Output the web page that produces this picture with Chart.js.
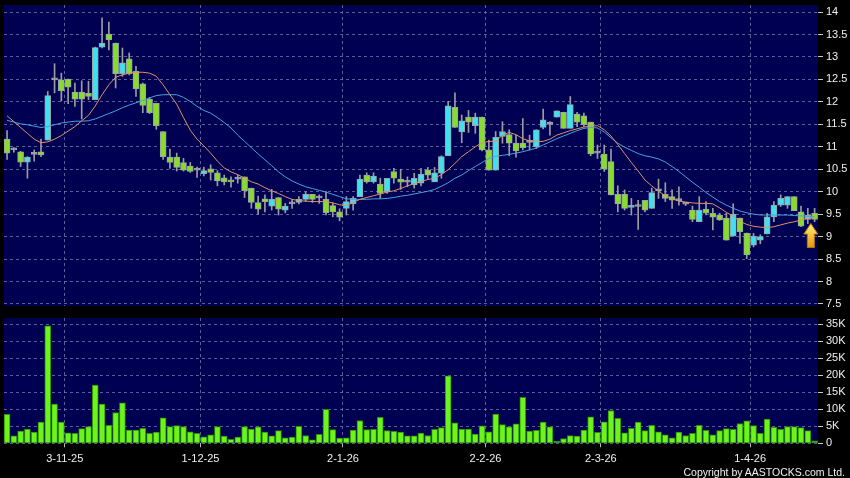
<!DOCTYPE html>
<html>
<head>
<meta charset="utf-8">
<script src="https://cdn.jsdelivr.net/npm/chart.js@4.4.1/dist/chart.umd.min.js"></script>
<style>
  body { margin: 0; background: #000; width: 850px; height: 478px; overflow: hidden; position: relative; }
  #priceWrap { position: absolute; left: 0; top: 0; width: 850px; height: 312px; }
  #volWrap { position: absolute; left: 0; top: 312px; width: 850px; height: 166px; }
  #copy { position: absolute; right: 5px; top: 466px; color: #f0f0f0; font: 10.5px "Liberation Sans", Arial, sans-serif; line-height: 12px; white-space: nowrap; }
</style>
</head>
<body>
<div id="priceWrap"><canvas id="priceChart"></canvas></div>
<div id="volWrap"><canvas id="volChart"></canvas></div>
<div id="copy">Copyright by AASTOCKS.com Ltd.</div>
<script>
// daily OHLC, oldest first
var opens = [11.17,10.93,10.89,10.66,10.83,10.89,11.15,12.49,12.49,12.51,
  12.22,12.22,12.19,12.05,13.22,13.51,13.31,12.63,12.96,12.68,
  12.40,12.06,11.97,11.34,10.77,10.77,10.65,10.57,10.48,10.40,
  10.51,10.42,10.31,10.26,10.28,10.33,10.08,9.76,9.84,9.68,
  9.87,9.59,9.73,9.76,9.83,9.94,9.86,9.83,9.69,9.55,
  9.63,9.73,9.89,10.37,10.22,10.17,10.00,10.45,10.28,10.21,
  10.15,10.19,10.48,10.22,10.41,10.80,11.88,11.33,11.66,11.47,
  11.66,10.93,10.48,11.23,11.27,11.08,11.08,11.10,11.00,11.43,
  11.50,11.66,11.77,11.41,11.73,11.69,11.55,10.86,10.84,10.67,
  9.94,9.94,9.65,9.67,9.81,9.63,10.02,9.94,9.89,9.80,
  9.72,9.59,9.33,9.61,9.52,9.48,9.41,9.01,9.41,9.08,
  8.81,8.92,9.06,9.44,9.70,9.70,9.89,9.55,9.38,9.52];
var closes = [10.86,10.93,10.66,10.77,10.83,10.82,12.14,12.49,12.25,12.33,
  12.06,12.06,12.12,13.21,13.31,13.38,12.63,12.87,12.63,12.29,
  11.92,11.76,11.47,10.78,10.65,10.54,10.48,10.45,10.48,10.47,
  10.43,10.24,10.22,10.22,10.28,10.02,9.76,9.61,9.78,9.83,
  9.61,9.68,9.73,9.83,9.94,9.83,9.86,9.53,9.55,9.43,
  9.78,9.85,10.28,10.22,10.35,9.96,10.30,10.30,10.21,10.21,
  10.30,10.39,10.37,10.42,10.78,11.91,11.43,11.58,11.55,11.66,
  10.93,10.48,11.21,11.34,11.08,10.91,10.98,11.10,11.38,11.60,
  11.50,11.80,11.41,11.94,11.55,11.49,10.84,10.86,10.50,9.93,
  9.73,9.63,9.69,9.67,9.59,9.98,10.02,9.85,9.81,9.80,
  9.72,9.38,9.59,9.52,9.43,9.37,8.92,9.50,9.11,8.59,
  9.01,9.00,9.44,9.70,9.85,9.89,9.58,9.23,9.48,9.38];
var highs = [11.36,10.98,10.90,10.78,10.93,11.17,12.23,12.85,12.64,12.51,
  12.42,12.47,12.46,13.22,13.87,13.78,13.31,13.20,13.09,12.79,
  12.42,12.10,11.97,11.34,10.95,10.86,10.74,10.65,10.55,10.55,
  10.60,10.47,10.37,10.33,10.37,10.33,10.08,9.90,9.93,10.05,
  9.87,9.74,9.83,9.89,10.00,9.94,9.93,10.00,9.75,9.62,
  9.89,9.89,10.37,10.42,10.42,10.30,10.30,10.52,10.50,10.33,
  10.41,10.52,10.54,10.54,10.80,12.01,12.20,11.71,11.81,11.75,
  11.66,11.15,11.34,11.56,11.38,11.26,11.63,11.26,11.38,11.84,
  11.56,11.80,11.77,12.12,11.77,11.75,11.55,11.04,11.04,10.95,
  10.13,10.04,9.85,9.81,9.81,10.08,10.28,10.20,10.04,10.11,
  9.76,9.68,9.89,9.78,9.63,9.52,9.52,9.73,9.41,9.08,
  9.07,9.04,9.52,9.78,9.93,9.89,9.89,9.68,9.63,9.63];
var lows = [10.72,10.88,10.56,10.30,10.68,10.78,11.15,12.20,12.02,11.96,
  11.90,11.62,12.05,12.05,13.20,13.16,12.31,12.57,12.60,12.12,
  11.76,11.74,11.39,10.72,10.52,10.46,10.46,10.43,10.32,10.35,
  10.26,10.13,10.15,10.10,10.19,9.87,9.63,9.50,9.55,9.59,
  9.48,9.53,9.63,9.73,9.78,9.76,9.74,9.48,9.44,9.35,
  9.48,9.59,9.89,10.19,10.19,9.85,9.96,10.19,10.05,10.11,
  10.08,10.13,10.28,10.22,10.30,10.80,11.43,11.09,11.32,11.30,
  10.91,10.48,10.48,11.08,10.80,10.77,10.93,10.93,10.96,11.40,
  11.26,11.66,11.41,11.41,11.45,11.45,10.80,10.74,10.45,9.93,
  9.55,9.59,9.48,9.16,9.55,9.63,9.85,9.78,9.63,9.70,
  9.69,9.33,9.33,9.48,9.15,9.36,8.92,9.01,8.85,8.51,
  8.77,8.84,9.06,9.33,9.67,9.63,9.58,9.22,9.29,9.33];

// moving averages as drawn (short = orange, long = blue)
var maShort = [11.69,11.56,11.43,11.30,11.17,11.09,11.11,11.17,11.25,11.35,
  11.45,11.58,11.70,11.91,12.16,12.38,12.55,12.60,12.64,12.66,
  12.66,12.64,12.57,12.38,12.16,11.95,11.65,11.37,11.17,11.02,
  10.86,10.68,10.53,10.44,10.38,10.30,10.22,10.17,10.09,10.02,
  9.96,9.89,9.83,9.80,9.79,9.78,9.78,9.78,9.75,9.71,
  9.69,9.76,9.83,9.87,9.91,9.95,9.99,10.02,10.07,10.13,
  10.18,10.23,10.27,10.30,10.38,10.49,10.63,10.78,10.89,11.00,
  11.09,11.12,11.12,11.26,11.32,11.27,11.18,11.13,11.12,11.12,
  11.17,11.26,11.31,11.36,11.40,11.44,11.46,11.47,11.38,11.24,
  11.05,10.85,10.65,10.46,10.26,10.13,10.01,9.91,9.85,9.79,
  9.77,9.75,9.74,9.74,9.73,9.64,9.54,9.45,9.34,9.27,
  9.23,9.21,9.20,9.22,9.26,9.30,9.33,9.37,9.41,9.43];
var maLong = [11.59,11.55,11.51,11.49,11.46,11.43,11.45,11.49,11.53,11.55,
  11.57,11.57,11.58,11.62,11.68,11.74,11.80,11.87,11.93,11.98,
  12.03,12.09,12.14,12.16,12.16,12.16,12.10,12.01,11.90,11.81,
  11.75,11.65,11.54,11.42,11.26,11.12,10.98,10.84,10.71,10.58,
  10.44,10.33,10.24,10.17,10.11,10.07,10.03,9.99,9.94,9.89,
  9.84,9.83,9.83,9.83,9.84,9.84,9.85,9.87,9.90,9.92,
  9.95,9.98,10.01,10.05,10.12,10.20,10.30,10.37,10.47,10.56,
  10.65,10.74,10.79,10.81,10.83,10.86,10.89,10.93,10.97,11.04,
  11.11,11.18,11.24,11.30,11.36,11.41,11.43,11.42,11.33,11.20,
  11.08,10.99,10.92,10.85,10.80,10.77,10.73,10.66,10.56,10.45,
  10.33,10.21,10.10,9.98,9.88,9.78,9.70,9.63,9.57,9.53,
  9.50,9.48,9.48,9.48,9.48,9.48,9.47,9.46,9.45,9.44];

var volumes = [8500,2200,3600,4200,3300,6200,34500,11500,6200,3100,
  2900,4300,4900,17100,11500,5300,9000,11900,3900,3900,
  4400,2900,3300,7500,4900,5200,4900,3400,2900,1900,
  2500,4900,2100,1200,1800,4900,4200,4800,3300,2200,
  3700,1600,1800,5000,2300,1000,2600,10000,4000,1500,
  1600,3900,6700,4000,4100,7600,3700,3500,3300,2200,
  2200,3000,2300,4100,4600,19800,6000,4200,4200,2700,
  5100,3400,8600,5500,4800,5700,13500,3600,3800,6200,
  4800,600,1400,2300,2100,3900,7800,3200,6300,9600,
  7300,3100,4400,6200,3700,5300,3400,2500,1600,3300,
  2300,2900,5300,3800,2500,3700,4300,4100,5800,6600,
  5200,2900,7100,4700,4100,4900,4900,4600,3700,700];

// month starts: index of first trading day, and its label
var dateIdx = [9, 29, 50, 71, 88, 110];
var dateLabels = ['3-11-25', '1-12-25', '2-1-26', '2-2-26', '2-3-26', '1-4-26'];

var priceTicks = [7.5, 8, 8.5, 9, 9.5, 10, 10.5, 11, 11.5, 12, 12.5, 13, 13.5, 14];
var volTicks = [0, 5000, 10000, 15000, 20000, 25000, 30000, 35000];
var volTickLabels = ['0', '5K', '10K', '15K', '20K', '25K', '30K', '35K'];

var arrowIdx = 118;

var NAVY = '#000052';
var GRID = 'rgba(125,125,175,0.75)';
var TXT = '#f0f0f0';
var UP = '#3fe0f0', DOWN = '#88dc2c', FLAT = '#a8a8a8';

Chart.defaults.font.family = '"Liberation Sans", Arial, sans-serif';
Chart.defaults.font.size = 11;
Chart.defaults.color = TXT;

var n = closes.length;
var bodies = [], wicks = [], bodyColors = [], ma1 = [], ma2 = [], vols = [];
for (var i = 0; i < n; i++) {
  bodies.push({ x: i, y: [opens[i], closes[i]] });
  wicks.push({ x: i, y: [lows[i], highs[i]] });
  bodyColors.push(closes[i] > opens[i] ? UP : (closes[i] < opens[i] ? DOWN : FLAT));
  ma1.push({ x: i, y: maShort[i] });
  ma2.push({ x: i, y: maLong[i] });
  vols.push({ x: i, y: volumes[i] });
}

var plotBg = {
  id: 'plotBg',
  beforeDraw: function(chart) {
    var a = chart.chartArea, ctx = chart.ctx;
    ctx.save();
    ctx.fillStyle = NAVY;
    ctx.fillRect(a.left, a.top, a.right - a.left, a.bottom - a.top);
    ctx.restore();
  }
};

var arrowMark = {
  id: 'arrowMark',
  afterDatasetsDraw: function(chart) {
    var ctx = chart.ctx;
    var x = chart.scales.x.getPixelForValue(arrowIdx) + 3;
    var y = chart.scales.y.getPixelForValue(lows[arrowIdx]);
    var g = ctx.createLinearGradient(0, y, 0, y + 24);
    g.addColorStop(0, '#fff07a');
    g.addColorStop(1, '#e8960e');
    ctx.save();
    ctx.beginPath();
    ctx.moveTo(x, y);
    ctx.lineTo(x + 7, y + 10.5);
    ctx.lineTo(x + 3.5, y + 10.5);
    ctx.lineTo(x + 3.5, y + 24);
    ctx.lineTo(x - 3.5, y + 24);
    ctx.lineTo(x - 3.5, y + 10.5);
    ctx.lineTo(x - 7, y + 10.5);
    ctx.closePath();
    ctx.fillStyle = g;
    ctx.fill();
    ctx.strokeStyle = '#b8780c';
    ctx.lineWidth = 1;
    ctx.stroke();
    ctx.restore();
  }
};

function xAxis(showLabels) {
  return {
    type: 'linear',
    min: -0.45,
    max: n - 0.5,
    offset: false,
    afterBuildTicks: function(s) {
      s.ticks = dateIdx.map(function(d) { return { value: d - 0.5 }; });
    },
    afterFit: function(s) {
      s.height = showLabels ? 34.7 : 0;
      s.paddingLeft = 0;
      s.paddingRight = 0;
    },
    grid: { offset: false, color: GRID, drawTicks: showLabels, tickLength: 4, tickColor: '#b8b8b8', tickBorderDash: [] },
    border: { display: false, dash: [3, 3] },
    ticks: {
      display: showLabels, padding: 5, maxRotation: 0, autoSkip: false, color: TXT,
      callback: function(v, k) { return dateLabels[k]; }
    }
  };
}

function yAxis(min, max, tickVals, fmt) {
  return {
    position: 'right',
    min: min,
    max: max,
    afterBuildTicks: function(s) {
      s.ticks = tickVals.map(function(v) { return { value: v }; });
    },
    afterFit: function(s) {
      s.width = 32;
      s.paddingTop = 0;
      s.paddingBottom = 0;
    },
    grid: { color: GRID, tickLength: 5, tickColor: '#c8c8c8', tickBorderDash: [] },
    border: { display: false, dash: [3, 3] },
    ticks: { padding: 3, color: TXT, callback: fmt }
  };
}

new Chart(document.getElementById('priceChart'), {
  type: 'bar',
  data: {
    datasets: [
      { type: 'line', data: ma1, borderColor: '#e0916a', borderWidth: 1, pointRadius: 0, order: 0 },
      { type: 'line', data: ma2, borderColor: '#46a2e2', borderWidth: 1, pointRadius: 0, order: 0 },
      { data: bodies, backgroundColor: bodyColors, borderColor: '#9aa4a8', borderWidth: 1,
        borderSkipped: false, barThickness: 6, minBarLength: 2, grouped: false, order: 1 },
      { data: wicks, backgroundColor: '#9c9c9c', borderWidth: 0, barThickness: 1, grouped: false, order: 2 }
    ]
  },
  options: {
    responsive: true,
    maintainAspectRatio: false,
    animation: false,
    layout: { padding: { left: 4, right: 0, top: 5, bottom: 6 } },
    scales: {
      x: xAxis(false),
      y: yAxis(7.454, 14.158, priceTicks, function(v) { return String(v); })
    },
    plugins: { legend: { display: false }, tooltip: { enabled: false } }
  },
  plugins: [plotBg, arrowMark]
});

new Chart(document.getElementById('volChart'), {
  type: 'bar',
  data: {
    datasets: [{
      data: vols, backgroundColor: '#6cf51c', borderColor: '#2e8c00', borderWidth: 1,
      borderSkipped: false, barThickness: 6, grouped: false
    }]
  },
  options: {
    responsive: true,
    maintainAspectRatio: false,
    animation: false,
    layout: { padding: { left: 4, right: 0, top: 6, bottom: 0 } },
    scales: {
      x: xAxis(true),
      y: yAxis(0, 36770, volTicks, function(v, k) { return volTickLabels[k]; })
    },
    plugins: { legend: { display: false }, tooltip: { enabled: false } }
  },
  plugins: [plotBg]
});
</script>
</body>
</html>
